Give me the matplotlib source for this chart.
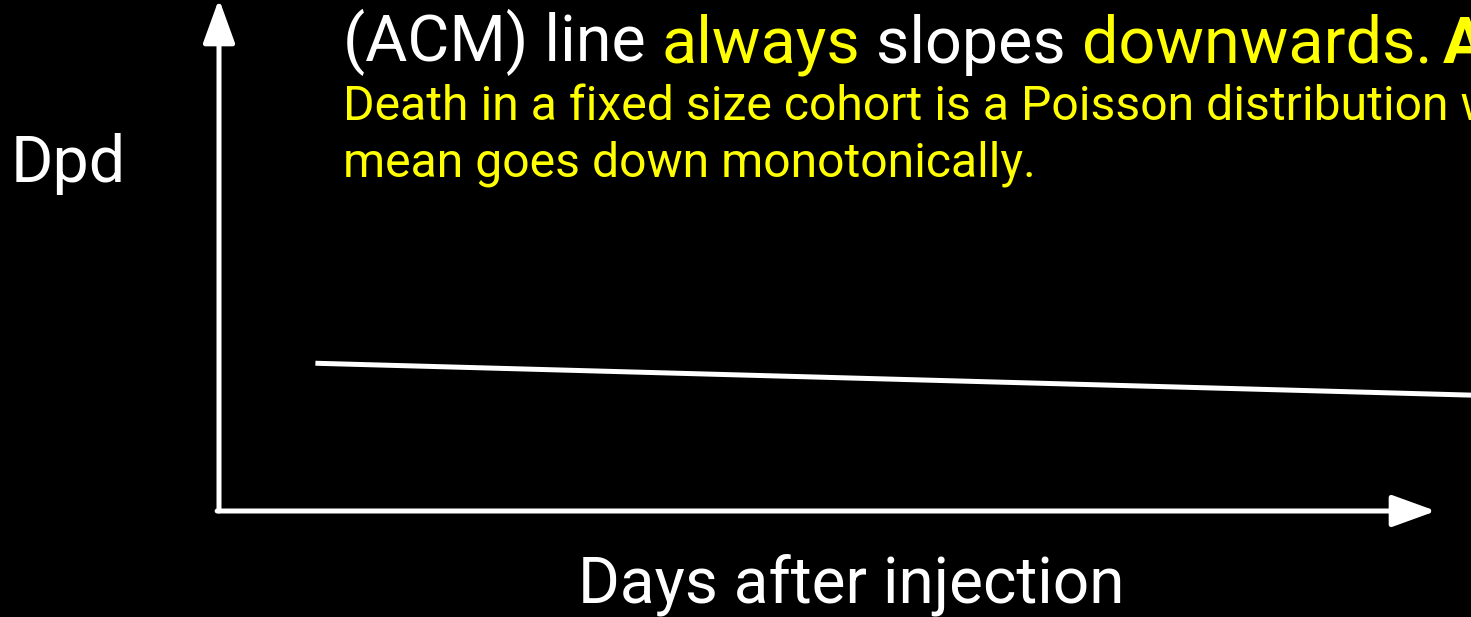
import matplotlib
matplotlib.use("Agg")
import matplotlib.pyplot as plt

plt.rcParams['font.family'] = ['Roboto', 'DejaVu Sans']

W, H = 1471, 617

# conceptual line: deaths per day vs days after injection
days = [7.7, 100.0]
dpd = [29.2, 22.9]

x_label = "Days after injection"
y_label = "Dpd"
title_parts = [("(ACM) line ", "white", "normal"),
               ("always", "yellow", "normal"),
               (" slopes ", "white", "normal"),
               ("downwards.", "yellow", "normal"),
               ("A", "yellow", "bold")]
note_lines = ["Death in a fixed size cohort is a Poisson distribution whose",
              "mean goes down monotonically."]

fig = plt.figure(figsize=(W / 100, H / 100), dpi=100, facecolor="black")

ax = fig.add_axes([219 / W, (H - 511) / H, (W - 219) / W, 506 / H])
ax.set_facecolor("black")
ax.set_xlim(0, 100)
ax.set_ylim(0, 100)
ax.axis("off")

ax.plot(days, dpd, color="white", lw=3.6, solid_capstyle="butt", clip_on=False)

arrow = dict(arrowstyle="-|>,head_length=27,head_width=9.8", color="white",
             lw=3.6, shrinkA=0, shrinkB=0, mutation_scale=1)
ax.annotate("", xy=(0, 512 / 506), xytext=(0, 0), xycoords="axes fraction",
            arrowprops=arrow, annotation_clip=False)
ax.annotate("", xy=((1436 - 219) / (W - 219), 0), xytext=(-0.0015, 0),
            xycoords="axes fraction", arrowprops=arrow, annotation_clip=False)


def px(x, y):
    return x / W, 1 - y / H


# title line with mixed colours, each piece placed after the previous one
prev = None
for i, (s, c, w) in enumerate(title_parts):
    if prev is None:
        prev = ax.annotate(s, xy=px(343, 61), xycoords="figure fraction",
                           color=c, fontsize=46.5, fontweight=w, va="baseline",
                           annotation_clip=False)
    else:
        gap = 10 if s == "A" else 0
        prev = ax.annotate(s, xy=(1, 0), xycoords=prev, xytext=(gap, 0),
                           textcoords="offset pixels", color=c, fontsize=46.5,
                           fontweight=w, va="bottom", annotation_clip=False)

for i, line in enumerate(note_lines):
    fig.text(*px(343, 120 + 57 * i), line, color="yellow", fontsize=34.7,
             va="baseline")

fig.text(*px(11, 182), y_label, color="white", fontsize=46.5, va="baseline")
fig.text(*px(578, 602), x_label, color="white", fontsize=46, va="baseline")

fig.savefig("out.png", dpi=100, facecolor="black")
